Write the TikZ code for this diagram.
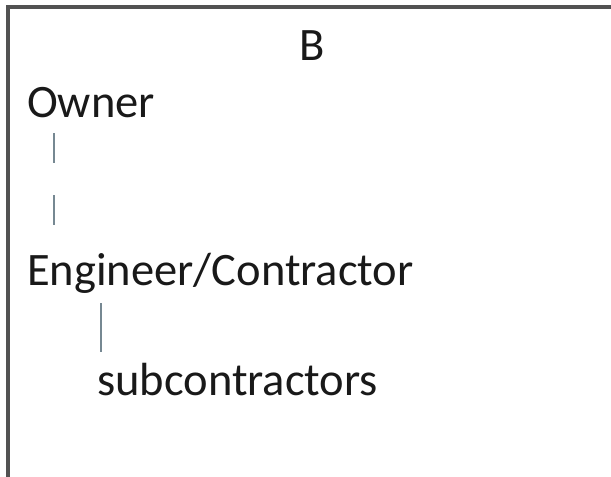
\documentclass[tikz,border=0pt]{standalone}
\usepackage{fontspec}
\setmainfont{Carlito}
\definecolor{linkgray}{RGB}{118,136,146}

\begin{document}
\begin{tikzpicture}[x=1pt,y=-1pt,
        label/.style={inner sep=0pt,anchor=base west,text=black!90,font=\fontsize{46.5}{56}\selectfont},
        link/.style={draw=linkgray,line width=1.8pt},
        frame/.style={draw=black!68,line width=3.4pt}]
    \useasboundingbox (0,0) rectangle (611,477);
    \fill[white] (0,0) rectangle (611,477);
    \draw[frame] (8,477) -- (8,7) -- (611,7);
    \node[label,anchor=base] (title) at (312,60) {B};
    \node[label] (owner) at (27,117) {Owner};
    \node[label] (engineer) at (27,285) {Engineer/Contractor};
    \node[label] (subs) at (97,395) {subcontractors};
    % two short dashes, then one stroke
    \draw[link,dash pattern=on 30pt off 32pt]
        ([xshift=27pt,yshift=-16pt]owner.base west) -- ([xshift=27pt,yshift=58pt]engineer.base west);
    \draw[link] ([xshift=4pt,yshift=-18pt]engineer.base west -| subs.base west)
        -- ([xshift=4pt,yshift=43pt]subs.base west);
\end{tikzpicture}
\end{document}
